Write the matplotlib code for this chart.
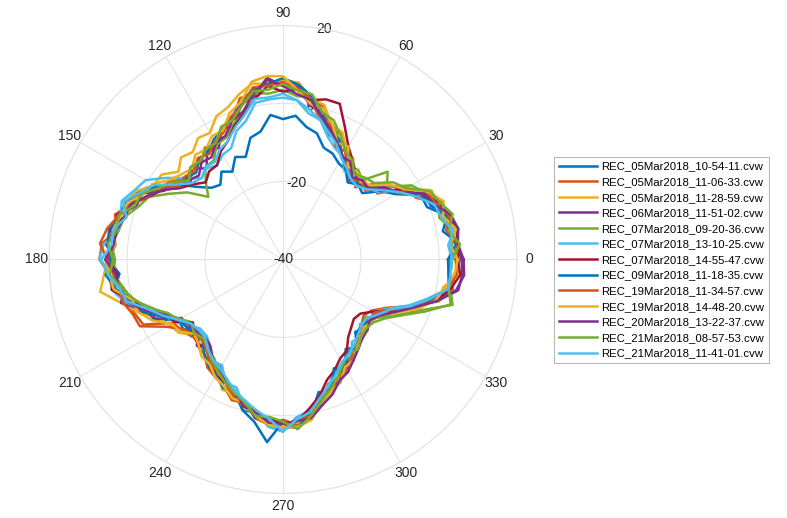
import matplotlib.pyplot as plt
import numpy as np

plt.rcParams['font.family'] = ['Liberation Sans', 'DejaVu Sans']

# measurement angles (deg)
angle_deg = list(range(0, 360, 5))

names = [
    "REC_05Mar2018_10-54-11.cvw", "REC_05Mar2018_11-06-33.cvw",
    "REC_05Mar2018_11-28-59.cvw", "REC_06Mar2018_11-51-02.cvw",
    "REC_07Mar2018_09-20-36.cvw", "REC_07Mar2018_13-10-25.cvw",
    "REC_07Mar2018_14-55-47.cvw", "REC_09Mar2018_11-18-35.cvw",
    "REC_19Mar2018_11-34-57.cvw", "REC_19Mar2018_14-48-20.cvw",
    "REC_20Mar2018_13-22-37.cvw", "REC_21Mar2018_08-57-53.cvw",
    "REC_21Mar2018_11-41-01.cvw",
]

s01 = [2.8, 5.5, 1.6, 3.5, -0.7, -1.0, -6.5, -9.5, -13.5, -12.8, -14.2, -12.0, -11.5, -10.0, -9.5, -6.5, -5.5, -3.0,
       -4.0, -2.8, -6.7, -7.7, -12.0, -11.0, -14.0, -12.5, -15.0, -14.0, -11.0, -6.5, -2.3, 1.0, 2.5, 2.1, 4.8, 3.1,
       4.8, 2.1, 3.9, -0.5, -2.5, -3.5, -9.0, -8.8, -11.8, -8.8, -10.2, -6.2, -8.2, -3.6, -3.6, 0.0, -0.2, 3.0,
       4.1, 0.6, 0.8, -4.8, -3.6, -9.2, -8.2, -12.0, -10.5, -13.8, -12.3, -13.8, -10.8, -9.7, -3.1, -1.0, 4.1, 2.6]
s02 = [5.3, 2.8, 4.6, 1.5, 2.3, -2.5, -3.0, -10.5, -10.0, -13.8, -10.5, -11.5, -8.0, -4.5, -4.5, 0.5, 1.5, 5.5,
       4.5, 6.7, 3.3, 2.8, -2.0, -2.5, -6.0, -5.0, -7.5, -6.5, -8.0, -5.0, -3.3, 0.5, 1.5, 4.6, 3.3, 6.6,
       7.1, 4.6, 4.6, 1.5, 0.5, -0.5, -7.5, -8.3, -11.3, -8.8, -8.5, -6.2, -5.2, -4.1, -1.6, -2.0, 1.3, 2.5,
       1.1, 2.6, 1.3, -1.3, -4.6, -5.7, -8.2, -9.0, -11.5, -11.3, -13.8, -14.8, -13.8, -10.7, -5.1, 0.5, 4.1, 4.1]
s03 = [4.3, 5.5, 2.6, 4.5, 2.3, 2.0, -3.5, -7.0, -11.0, -10.8, -12.5, -8.5, -7.5, -4.0, -3.5, 1.0, 2.0, 5.5,
       6.0, 5.2, 5.8, 3.8, 1.5, 0.5, -2.5, -2.0, -4.0, -3.0, -5.0, -2.0, -1.8, 1.5, 3.0, 1.6, 4.3, 3.1,
       5.1, 6.1, 7.6, 3.0, -0.5, -4.5, -6.5, -7.3, -9.8, -9.8, -8.5, -6.7, -6.7, -3.1, -3.6, -0.5, -0.2, 2.5,
       3.1, 1.6, 1.8, -2.3, -3.6, -6.7, -6.7, -9.5, -10.0, -11.8, -11.8, -12.8, -10.8, -8.2, -5.1, 1.5, 1.6, 5.1]
s04 = [5.8, 4.5, 5.6, 3.5, 3.3, -1.0, -4.0, -7.0, -12.0, -11.3, -13.5, -10.0, -10.0, -6.0, -6.0, -1.0, 0.0, 4.5,
       4.5, 6.7, 2.3, 1.3, -3.5, -3.0, -7.0, -6.0, -9.5, -7.0, -9.0, -6.0, -4.8, 0.0, 0.0, 4.1, 2.8, 5.6,
       3.1, 5.6, 1.6, 3.0, -2.0, -4.0, -10.0, -9.8, -12.3, -8.8, -10.5, -7.2, -7.2, -5.6, -2.6, -2.5, 1.3, 1.0,
       3.1, 3.1, -0.2, -1.3, -5.6, -5.2, -9.2, -8.5, -11.5, -11.3, -12.8, -12.3, -11.8, -9.2, -4.6, 1.0, 5.6, 6.1]
s05 = [2.8, 3.5, 4.1, 1.5, 3.3, 0.5, -2.0, -7.5, -5.0, -11.3, -10.0, -11.0, -7.0, -6.0, -3.0, -2.5, 2.5, 2.0,
       3.5, 2.7, 3.3, -0.7, -3.0, -5.5, -6.0, -9.0, -9.0, -12.0, -15.0, -10.0, -6.3, -2.0, -0.5, 2.1, 2.8, 4.1,
       3.1, 3.6, 1.6, 0.0, -4.0, -7.0, -9.5, -11.8, -10.3, -11.8, -9.5, -9.2, -6.7, -5.6, -4.1, -1.0, -0.2, 2.0,
       2.1, 3.1, -0.2, -2.3, -6.1, -6.7, -9.7, -9.5, -11.5, -11.3, -12.8, -14.3, -10.3, -6.7, -2.1, 5.0, 3.6, 2.6]
s06 = [3.3, 2.5, 4.6, 2.5, 0.8, -1.5, -5.0, -10.0, -11.5, -13.3, -11.5, -12.5, -9.5, -8.5, -6.5, -3.0, -2.0, 1.0,
       1.5, 1.2, 0.8, -3.2, -5.0, -8.5, -9.0, -10.5, -9.5, -10.5, -7.5, -3.5, 0.7, 2.0, 4.0, 3.1, 2.8, 6.1,
       7.1, 3.6, 4.6, 2.0, -2.0, -6.0, -8.0, -10.8, -12.3, -12.3, -11.0, -8.2, -8.7, -5.1, -5.1, -1.0, -0.7, 3.0,
       4.1, 0.6, -0.7, -3.8, -5.6, -8.7, -9.2, -9.5, -12.5, -11.8, -14.3, -12.8, -13.3, -10.2, -5.6, -1.5, 3.1, 3.1]
s07 = [4.8, 5.0, 5.1, 3.5, 2.8, -2.0, -4.0, -9.5, -10.5, -12.8, -11.0, -9.0, -6.5, -2.5, 2.5, 2.5, 1.5, 4.0,
       3.0, 4.7, 1.8, -1.2, -3.5, -6.5, -8.0, -10.5, -10.5, -12.0, -10.0, -8.0, -4.3, -2.0, 1.5, 2.1, 4.8, 3.6,
       5.1, 2.6, 4.6, 0.5, -2.5, -6.5, -8.0, -11.8, -9.8, -9.3, -10.0, -8.2, -5.7, -5.1, -2.6, -2.0, 0.8, 1.0,
       2.1, 1.6, -1.2, -3.8, -7.1, -8.7, -10.7, -11.5, -14.0, -15.3, -16.3, -15.8, -13.3, -9.2, -4.6, 0.5, 3.6, 5.6]
s08 = [2.3, 4.5, 2.6, 3.5, 0.3, 0.0, -6.0, -9.0, -12.0, -12.8, -12.5, -12.0, -9.5, -6.0, -5.0, -1.0, 2.5, 5.0,
       6.5, 5.2, 4.3, 1.8, -1.5, -3.0, -4.5, -6.5, -6.5, -8.5, -7.5, -7.0, -2.8, 0.5, 3.0, 3.1, 5.3, 5.1,
       4.1, 5.6, 3.6, 0.5, -1.0, -5.5, -9.0, -9.8, -10.3, -10.8, -8.5, -6.7, -5.7, -3.6, -4.1, 0.0, 2.3, 7.0,
       1.6, 3.6, -0.2, -2.3, -4.6, -8.7, -7.7, -11.0, -10.5, -13.3, -13.8, -12.8, -12.8, -8.2, -4.6, -0.5, 3.1, 2.6]
s09 = [4.3, 5.0, 2.6, 4.0, 1.8, 0.5, -6.0, -8.0, -12.5, -11.8, -13.0, -11.0, -8.0, -8.0, -3.5, -3.0, 1.5, 4.0,
       5.5, 4.7, 4.8, 0.8, -1.0, -4.0, -5.0, -7.0, -6.0, -8.0, -7.0, -7.5, -3.3, -2.0, 1.5, 3.6, 5.8, 7.1,
       5.1, 3.6, 2.6, 2.5, 1.0, 0.5, -5.5, -8.8, -9.3, -10.8, -9.5, -7.2, -6.7, -5.1, -2.6, -1.0, -0.7, 2.0,
       3.1, 1.1, 0.8, -3.3, -4.1, -6.7, -7.2, -9.5, -10.5, -12.8, -11.8, -12.8, -12.8, -9.7, -3.6, -1.0, 3.1, 4.6]
s10 = [4.8, 3.0, 5.1, 2.5, 3.8, 1.0, -4.0, -6.5, -10.5, -11.8, -10.5, -11.0, -6.5, -7.0, -3.0, 0.0, 0.5, 3.5,
       7.0, 7.2, 6.3, 1.8, 0.0, -3.5, -3.5, -5.5, -5.0, -7.0, -6.0, -4.5, -1.3, -0.5, 2.5, 3.1, 4.3, 3.6,
       5.6, 4.6, 4.1, 0.0, -0.5, -3.0, -7.0, -7.8, -10.3, -9.3, -7.5, -7.2, -5.2, -4.1, -2.1, -2.0, 0.8, 2.5,
       3.1, 3.1, 1.8, -1.8, -4.1, -5.2, -8.2, -8.5, -10.5, -11.8, -12.8, -12.3, -11.8, -7.7, -3.1, 0.5, 2.1, 4.1]
s11 = [6.3, 5.0, 5.6, 4.5, 1.3, 0.0, -5.5, -8.0, -11.5, -11.3, -12.5, -9.5, -9.5, -7.0, -4.5, -2.0, 1.5, 2.5,
       4.5, 6.2, 3.3, -0.7, -2.0, -5.0, -5.5, -8.0, -7.5, -9.5, -8.5, -8.0, -4.3, -1.5, 1.5, 2.1, 3.3, 3.6,
       5.6, 3.1, 2.6, 1.5, -2.0, -6.5, -9.0, -10.8, -11.3, -11.8, -11.0, -8.7, -7.7, -5.1, -4.1, -1.0, -0.2, 2.0,
       2.1, 1.6, 1.3, -1.3, -3.1, -5.7, -6.7, -8.5, -10.0, -11.3, -11.8, -12.8, -11.3, -8.2, -4.1, 1.0, 5.1, 6.6]
s12 = [3.3, 5.5, 3.1, 5.0, 2.8, 1.5, -3.5, -5.5, -9.5, -10.3, -11.5, -9.0, -8.0, -5.0, -2.0, -1.0, 3.0, 3.5,
       5.0, 3.7, 3.8, 0.8, -2.0, -2.5, -5.5, -5.5, -7.0, -6.5, -8.5, -5.5, -3.3, 0.0, 0.5, 3.6, 3.3, 5.1,
       3.6, 4.6, 2.1, -0.5, -3.5, -7.5, -9.0, -11.3, -10.3, -11.3, -10.0, -8.2, -6.7, -5.1, -3.6, -2.0, 0.8, 0.5,
       1.6, 3.6, 0.8, -2.3, -4.6, -6.7, -9.2, -10.5, -10.0, -11.8, -12.3, -11.8, -9.8, -6.2, -1.1, 4.5, 3.1, 3.1]
s13 = [3.3, 3.0, 4.1, 2.0, 1.3, -2.0, -5.5, -9.0, -12.0, -13.3, -13.0, -11.5, -10.0, -7.5, -5.5, -3.0, -1.0, 1.0,
       2.5, 1.7, 1.8, -1.7, -4.0, -6.5, -7.5, -9.5, -9.0, -10.5, -9.5, -6.5, -1.8, 0.5, 3.5, 1.6, 4.3, 4.1,
       6.6, 5.1, 2.6, 1.5, -3.0, -6.0, -9.0, -11.3, -11.8, -11.8, -10.0, -8.7, -7.7, -6.1, -4.1, -2.5, -0.7, 1.0,
       4.1, 1.1, -0.2, -3.3, -5.6, -7.7, -9.7, -10.5, -11.5, -12.8, -13.8, -13.8, -11.8, -9.7, -5.1, -1.0, 3.1, 3.1]

series = [s01, s02, s03, s04, s05, s06, s07, s08, s09, s10, s11, s12, s13]

colors = ['#0072BD', '#D95319', '#EDB120', '#7E2F8E', '#77AC30', '#4DBEEE', '#A2142F']

r_ticks = [-40, -20, 0, 20]
theta_ticks = list(range(0, 360, 30))

fig = plt.figure(figsize=(7.87, 5.18), dpi=100)
ax = fig.add_axes([0.0623, 0.0473, 0.5947, 0.9035], projection='polar')

theta = np.deg2rad(angle_deg + [angle_deg[0]])
for i, (name, s) in enumerate(zip(names, series)):
    ax.plot(theta, s + [s[0]], color=colors[i % len(colors)], lw=1.8, label=name, zorder=3)

ax.set_rlim(-40, 20)
ax.set_rticks(r_ticks)
ax.set_yticklabels([])
ax.set_thetagrids(theta_ticks, [str(t) for t in theta_ticks], fontsize=10, color='#262626')
ax.tick_params(axis='x', pad=-1.5)
ax.grid(True, color='#e3e3e3', lw=0.8)
ax.spines['polar'].set_color('#e3e3e3')
ax.spines['polar'].set_linewidth(0.8)
ax.set_axisbelow(True)
for r in r_ticks:
    ax.text(np.deg2rad(80), r, str(r), ha='center', va='center', fontsize=10,
            color='#262626', zorder=1)

leg = fig.legend(loc='upper left', bbox_to_anchor=(554 / 787, 1 - 157 / 518),
                 fontsize=8.2, frameon=True, fancybox=False, borderaxespad=0,
                 handlelength=3.4, labelspacing=0.49, handletextpad=0.35,
                 borderpad=0.4)
leg.get_frame().set_edgecolor('#a6a6a6')
leg.get_frame().set_linewidth(0.8)

fig.savefig('out.png', dpi=100)
